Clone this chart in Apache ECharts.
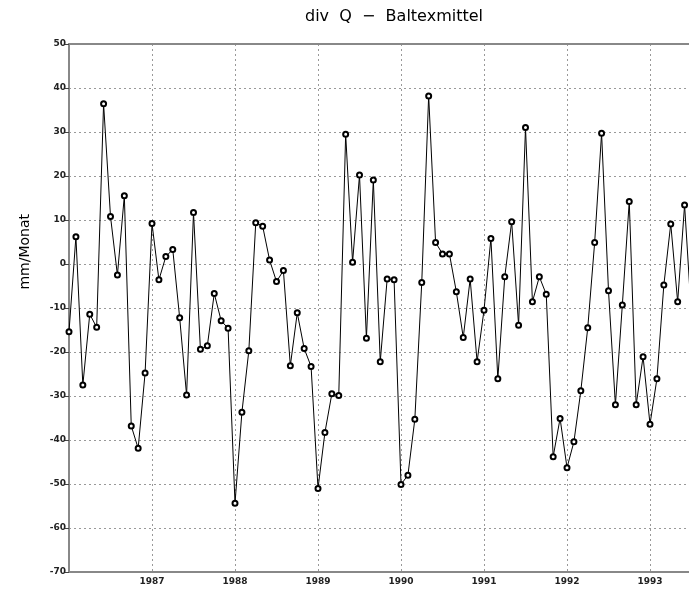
<!DOCTYPE html>
<html>
<head>
<meta charset="utf-8">
<script src="https://cdn.jsdelivr.net/npm/echarts@6/dist/echarts.min.js"></script>
<style>
  html, body { margin: 0; padding: 0; background: #fff; }
  #main { width: 689px; height: 592px; }
</style>
</head>
<body>
<div id="main"></div>
<script>
// monthly values, mm/Monat
var startYear = 1986;
var vals1986 = [-15.4, 6.2, -27.5, -11.4, -14.4, 36.4, 10.8, -2.5, 15.5, -36.8, -41.9, -24.8];
var vals1987 = [9.2, -3.6, 1.7, 3.3, -12.2, -29.8, 11.7, -19.4, -18.6, -6.7, -12.9, -14.6];
var vals1988 = [-54.4, -33.7, -19.7, 9.4, 8.6, 0.9, -4.0, -1.5, -23.1, -11.1, -19.2, -23.3];
var vals1989 = [-51.0, -38.3, -29.5, -29.9, 29.5, 0.4, 20.2, -16.9, 19.1, -22.2, -3.4, -3.6];
var vals1990 = [-50.1, -48.0, -35.3, -4.2, 38.2, 4.9, 2.3, 2.3, -6.3, -16.7, -3.4, -22.2];
var vals1991 = [-10.5, 5.8, -26.1, -2.9, 9.6, -13.9, 31.0, -8.6, -2.9, -6.9, -43.8, -35.1];
var vals1992 = [-46.3, -40.4, -28.8, -14.5, 4.9, 29.7, -6.1, -32.0, -9.3, 14.2, -32.0, -21.1];
var vals1993 = [-36.4, -26.1, -4.8, 9.1, -8.6, 13.4, -12.0];

var yearVals = [vals1986, vals1987, vals1988, vals1989, vals1990, vals1991, vals1992, vals1993];

var seriesData = [];
for (var y = 0; y < yearVals.length; y++) {
    for (var m = 0; m < yearVals[y].length; m++) {
        seriesData.push([startYear + y + m / 12, yearVals[y][m]]);
    }
}

var myChart = echarts.init(document.getElementById('main'));

var gridLine = { show: true, lineStyle: { color: '#999', width: 1, type: [2, 3] } };
var labelFont = { fontFamily: 'DejaVu Sans', fontSize: 9, color: '#222', fontWeight: 'bold' };

var option = {
    backgroundColor: '#fff',
    animation: false,
    title: {
        text: 'div  Q  \u2212  Baltexmittel',
        left: 389,
        top: 4,
        textAlign: 'center',
        textStyle: { fontFamily: 'DejaVu Sans', fontSize: 16, fontWeight: 'normal', color: '#000' }
    },
    grid: { left: 69, top: 44, right: 0, bottom: 20 },
    xAxis: [{
        type: 'value',
        min: 1986,
        max: 1986 + 620 / 83,
        interval: 1,
        axisLine: { show: true, onZero: false, lineStyle: { color: '#888', width: 2 } },
        axisTick: { show: false },
        splitLine: gridLine,
        axisLabel: Object.assign({
            margin: 5,
            showMaxLabel: false,
            formatter: function (v) { return v === 1986 ? '' : String(v); }
        }, labelFont)
    }, {
        type: 'value',
        position: 'top',
        min: 1986,
        max: 1986 + 620 / 83,
        axisLine: { show: true, onZero: false, lineStyle: { color: '#888', width: 2 } },
        axisTick: { show: false },
        axisLabel: { show: false },
        splitLine: { show: false }
    }],
    yAxis: {
        type: 'value',
        min: -70,
        max: 50,
        interval: 10,
        axisLine: { show: true, onZero: false, lineStyle: { color: '#888', width: 2 } },
        axisTick: { show: true, length: 4, lineStyle: { color: '#444' } },
        splitLine: gridLine,
        axisLabel: Object.assign({ margin: 3 }, labelFont)
    },
    graphic: [{
        type: 'text',
        left: 18,
        top: 214,
        rotation: Math.PI / 2,
        style: {
            text: 'mm/Monat',
            fontFamily: 'DejaVu Sans',
            fontSize: 14,
            fill: '#000'
        }
    }],
    series: [{
        type: 'line',
        data: seriesData,
        symbol: 'emptyCircle',
        symbolSize: 5,
        showAllSymbol: true,
        lineStyle: { color: '#000', width: 1 },
        itemStyle: { color: '#000', borderColor: '#000', borderWidth: 1 },
        clip: true
    }]
};

myChart.setOption(option);
</script>
</body>
</html>
